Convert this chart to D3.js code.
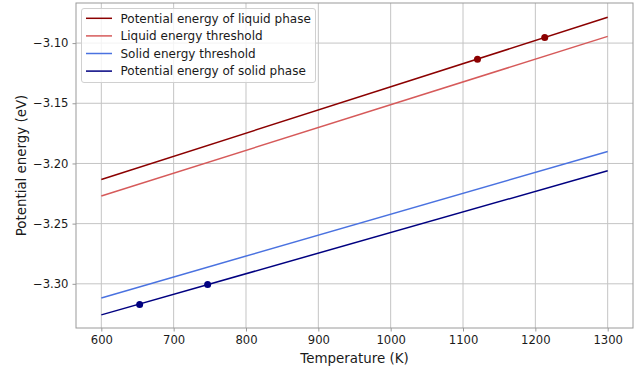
<!DOCTYPE html>
<html>
<head>
<meta charset="utf-8">
<script src="https://cdn.jsdelivr.net/npm/d3@7"></script>
<style>
  html, body { margin: 0; padding: 0; background: #fff; }
  svg { display: block; font-family: "DejaVu Sans", sans-serif; }
</style>
</head>
<body>
<svg id="chart" width="636" height="366"></svg>
<script>
// Temperatures (K) at the ends of each fitted line
const temperatures = [600, 1300];

// Potential energies (eV) at those temperatures
const liquidEnergy = [-3.2133, -3.0786];
const liquidThreshold = [-3.2270, -3.0944];
const solidThreshold = [-3.3117, -3.1900];
const solidEnergy = [-3.3258, -3.2061];

// Marked states on the energy curves
const liquidPointsT = [1120, 1213];
const liquidPointsE = [-3.1134, -3.0954];
const solidPointsT = [653, 747];
const solidPointsE = [-3.3172, -3.3006];

const xTicks = [600, 700, 800, 900, 1000, 1100, 1200, 1300];
const yTicks = [-3.30, -3.25, -3.20, -3.15, -3.10];

const seriesNames = [
  "Potential energy of liquid phase",
  "Liquid energy threshold",
  "Solid energy threshold",
  "Potential energy of solid phase"
];
const seriesColors = ["#8b0000", "#d65a5a", "#4a72e0", "#000080"];
const seriesValues = [liquidEnergy, liquidThreshold, solidThreshold, solidEnergy];

const svg = d3.select("#chart");
const plot = { left: 76, right: 633, top: 3, bottom: 328 };

const x = d3.scaleLinear().domain([565, 1335]).range([plot.left, plot.right]);
const y = d3.scaleLinear().domain([-3.3367, -3.0667]).range([plot.bottom, plot.top]);

const tickFont = 11.6;
const legendFont = 12;
const labelFont = 13.4;
const spineColor = "#9a9a9a";

// grid
const grid = svg.append("g");
grid.selectAll("line.gx").data(xTicks).join("line")
  .attr("x1", d => x(d)).attr("x2", d => x(d))
  .attr("y1", plot.top).attr("y2", plot.bottom)
  .attr("stroke", "#c4c4c4").attr("stroke-width", 1);
grid.selectAll("line.gy").data(yTicks).join("line")
  .attr("x1", plot.left).attr("x2", plot.right)
  .attr("y1", d => y(d)).attr("y2", d => y(d))
  .attr("stroke", "#c4c4c4").attr("stroke-width", 1);

// axes
const fmtY = v => d3.format(".2f")(v).replace("-", "\u2212");
const xAxis = svg.append("g")
  .attr("transform", `translate(0,${plot.bottom})`)
  .call(d3.axisBottom(x).tickValues(xTicks).tickSize(3.5).tickPadding(4).tickFormat(d3.format("d")));
const yAxis = svg.append("g")
  .attr("transform", `translate(${plot.left},0)`)
  .call(d3.axisLeft(y).tickValues(yTicks).tickSize(3.5).tickPadding(4).tickFormat(fmtY));
[xAxis, yAxis].forEach(a => {
  a.select(".domain").remove();
  a.selectAll(".tick line").attr("stroke", spineColor);
  a.selectAll(".tick text").attr("fill", "#1a1a1a")
    .style("font-size", tickFont + "px").style("font-family", "DejaVu Sans");
});

// spines
svg.append("rect")
  .attr("x", plot.left).attr("y", plot.top)
  .attr("width", plot.right - plot.left).attr("height", plot.bottom - plot.top)
  .attr("fill", "none").attr("stroke", spineColor).attr("stroke-width", 1);

// lines
const line = d3.line().x((d, i) => x(temperatures[i])).y(d => y(d));
const lines = svg.append("g");
seriesValues.forEach((vals, k) => {
  lines.append("path").datum(vals)
    .attr("d", line)
    .attr("fill", "none")
    .attr("stroke", seriesColors[k])
    .attr("stroke-width", 1.5);
});

// markers
const dots = svg.append("g");
dots.selectAll("circle.liq").data(liquidPointsT).join("circle")
  .attr("cx", d => x(d)).attr("cy", (d, i) => y(liquidPointsE[i]))
  .attr("r", 3.5).attr("fill", seriesColors[0]);
dots.selectAll("circle.sol").data(solidPointsT).join("circle")
  .attr("cx", d => x(d)).attr("cy", (d, i) => y(solidPointsE[i]))
  .attr("r", 3.5).attr("fill", seriesColors[3]);

// axis labels
svg.append("text")
  .attr("x", (plot.left + plot.right) / 2).attr("y", 363)
  .attr("text-anchor", "middle")
  .style("font-size", labelFont + "px").attr("fill", "#1a1a1a")
  .text("Temperature (K)");
svg.append("text")
  .attr("transform", `translate(26,${(plot.top + plot.bottom) / 2}) rotate(-90)`)
  .attr("text-anchor", "middle")
  .style("font-size", labelFont + "px").attr("fill", "#1a1a1a")
  .text("Potential energy (eV)");

// legend
const legend = svg.append("g");
legend.append("rect")
  .attr("x", 81.5).attr("y", 8.5).attr("width", 234).attr("height", 74)
  .attr("rx", 2.5)
  .attr("fill", "#fff").attr("fill-opacity", 0.8)
  .attr("stroke", "#d0d0d0").attr("stroke-width", 1);
seriesNames.forEach((name, k) => {
  const ly = 18.3 + k * 17.6;
  legend.append("line")
    .attr("x1", 86).attr("x2", 112).attr("y1", ly).attr("y2", ly)
    .attr("stroke", seriesColors[k]).attr("stroke-width", 1.5);
  legend.append("text")
    .attr("x", 120.5).attr("y", ly).attr("dy", "0.36em")
    .style("font-size", legendFont + "px").attr("fill", "#1a1a1a")
    .text(name);
});
</script>
</body>
</html>
